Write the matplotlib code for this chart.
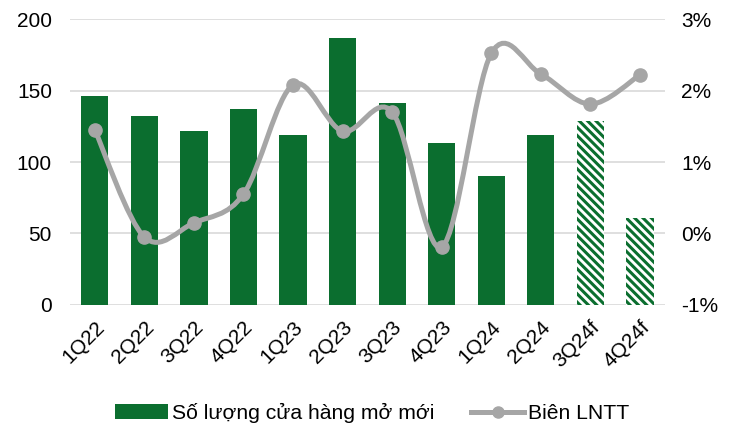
import numpy as np
import matplotlib.pyplot as plt
from matplotlib.path import Path
from matplotlib.patches import PathPatch, Patch
from matplotlib.lines import Line2D

plt.rcParams['font.family'] = ['Liberation Sans', 'DejaVu Sans']
plt.rcParams['hatch.linewidth'] = 2.2

quarters = ['1Q22', '2Q22', '3Q22', '4Q22', '1Q23', '2Q23', '3Q23', '4Q23',
            '1Q24', '2Q24', '3Q24f', '4Q24f']
stores = [146, 132, 122, 137, 119, 187, 141, 113, 90, 119, 129, 61]
margin = [1.45, -0.05, 0.15, 0.55, 2.08, 1.43, 1.70, -0.19, 2.52, 2.23, 1.81, 2.22]
forecast = [False] * 10 + [True, True]

green = '#0b6e2f'
grey = '#a6a6a6'

fig = plt.figure(figsize=(7.37, 4.23), dpi=100)
ax = fig.add_axes([0.095, 0.279, 0.807, 0.676])
ax2 = ax.twinx()

x = np.arange(len(quarters))
for i in range(len(quarters)):
    if forecast[i]:
        ax.bar(x[i], stores[i], width=0.55, color='white', edgecolor=green,
               hatch='\\\\\\\\', linewidth=0, zorder=2)
    else:
        ax.bar(x[i], stores[i], width=0.55, color=green, zorder=2)

ax.set_ylim(0, 200)
ax.set_yticks([0, 50, 100, 150, 200])
ax.set_xlim(-0.5, len(quarters) - 0.5)
ax.set_xticks(x)
ax.set_xticklabels(quarters, rotation=45, ha='right', rotation_mode='anchor')
ax.grid(axis='y', color='#d9d9d9', linewidth=1.2, zorder=0)
ax.set_axisbelow(True)

ax2.set_ylim(-1, 3)
ax2.set_yticks([-1, 0, 1, 2, 3])
ax2.set_yticklabels(['-1%', '0%', '1%', '2%', '3%'])

for a in (ax, ax2):
    for s in a.spines.values():
        s.set_visible(False)
    a.tick_params(length=0, labelsize=15, colors='black')
ax.tick_params(axis='x', pad=9)
ax.tick_params(axis='y', pad=13)
ax2.tick_params(axis='y', pad=12)

# smoothed line (Catmull-Rom style bezier, like Excel smoothing)
pts = np.column_stack([x, margin])
verts = [tuple(pts[0])]
codes = [Path.MOVETO]
n = len(pts)
for i in range(n - 1):
    p0 = pts[i - 1] if i > 0 else pts[i]
    p1 = pts[i]
    p2 = pts[i + 1]
    p3 = pts[i + 2] if i + 2 < n else pts[i + 1]
    c1 = p1 + (p2 - p0) / 6
    c2 = p2 - (p3 - p1) / 6
    verts += [tuple(c1), tuple(c2), tuple(p2)]
    codes += [Path.CURVE4] * 3
ax2.add_patch(PathPatch(Path(verts, codes), facecolor='none', edgecolor=grey,
                        linewidth=3.6, capstyle='round', zorder=3))
ax2.plot(x, margin, linestyle='none', marker='o', markersize=9.5,
         color=grey, zorder=4)

handles = [Patch(facecolor=green, label='Số lượng cửa hàng mở mới'),
           Line2D([], [], color=grey, linewidth=3.6, marker='o', markersize=8,
                  label='Biên LNTT')]
fig.legend(handles=handles, loc='lower center', bbox_to_anchor=(0.505, -0.045),
           ncol=2, frameon=False, fontsize=15.2, handlelength=2.5,
           columnspacing=1.75, handletextpad=0.2)

fig.savefig('out.png', dpi=100)
